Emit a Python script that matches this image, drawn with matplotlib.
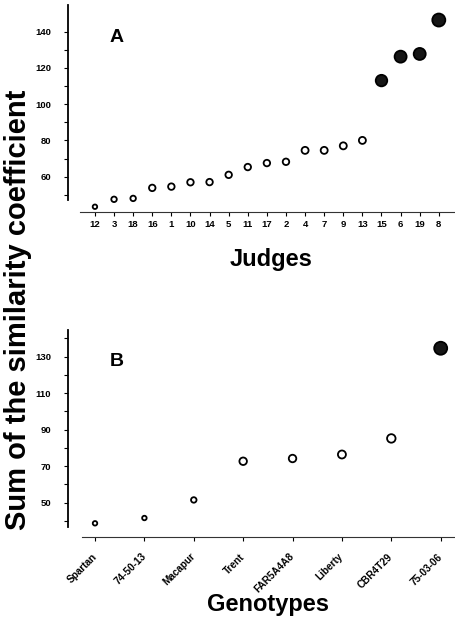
import matplotlib.pyplot as plt
import numpy as np

plt.rcParams['font.family'] = ['Liberation Sans', 'DejaVu Sans']
plt.rcParams['font.weight'] = 'bold'

# panel A: judges
judges = ['12', '3', '18', '16', '1', '10', '14', '5', '11', '17', '2',
          '4', '7', '9', '13', '15', '6', '19', '8']
judge_sum = [43.4, 47.5, 48.0, 53.8, 54.5, 56.9, 57.0, 61.0, 65.3, 67.5, 68.2,
             74.5, 74.5, 77.0, 80.0, 113.0, 126.2, 127.7, 146.4]
judge_diam = [4.5, 5.5, 5.5, 6.5, 6.5, 6.5, 6.5, 6.5, 6.5, 6.5, 6.5,
              7, 7, 7, 7, 11.5, 12, 12, 13]
judge_dark = [False] * 15 + [True] * 4

# panel B: genotypes
genotypes = ['Spartan', '74-50-13', 'Macapur', 'Trent', 'FAR5A4A8',
             'Liberty', 'CBR4T29', '75-03-06']
geno_sum = [38.7, 41.6, 51.5, 72.7, 74.2, 76.4, 85.2, 134.6]
geno_diam = [4.5, 4.5, 5.5, 7.5, 7.5, 8, 8.5, 13]
geno_dark = [False] * 7 + [True]

W, H = 456, 621
fig = plt.figure(figsize=(W / 100, H / 100), dpi=100)


def px_axes(x0, y0, x1, y1):
    # rectangle given in pixel coordinates (top-left origin)
    return fig.add_axes([x0 / W, 1 - y1 / H, (x1 - x0) / W, (y1 - y0) / H])


def draw_panel(ax, labels, values, diam, dark, xlim, ylim, ybounds, xleft,
               majors, minors, rotate):
    x = np.arange(len(labels))
    sizes = (np.array(diam) / 1.389) ** 2
    face = ['#161616' if d else 'white' for d in dark]
    ax.scatter(x, values, s=sizes, facecolors=face, edgecolors='black',
               linewidths=1.3, zorder=3, clip_on=False)
    ax.set_xlim(*xlim)
    ax.set_ylim(*ylim)
    for s in ['top', 'right']:
        ax.spines[s].set_visible(False)
    ax.spines['left'].set_bounds(*ybounds)
    ax.spines['bottom'].set_bounds(xleft, xlim[1])
    ax.spines['left'].set_linewidth(1.3)
    ax.spines['bottom'].set_linewidth(0.8)
    ax.spines['bottom'].set_color('#333333')
    ax.set_yticks(majors)
    ax.set_yticks(minors, minor=True)
    ax.tick_params(axis='y', which='both', length=3, width=0.8, pad=9,
                   labelsize=6.8)
    ax.set_xticks(x)
    if rotate:
        ax.set_xticklabels(labels, rotation=45, ha='right', va='center',
                           rotation_mode='anchor', fontsize=7.2)
        ax.tick_params(axis='x', length=3, width=0.8, pad=10)
    else:
        ax.set_xticklabels(labels, fontsize=6.8)
        ax.tick_params(axis='x', length=3, width=0.8, pad=3)
    for t in ax.get_xticklabels() + ax.get_yticklabels():
        t.set_fontweight('bold')


axA = px_axes(68, 5, 456, 212)
draw_panel(axA, judges, judge_sum, judge_diam, judge_dark,
           (-1.41, 18.9), (40.5, 154.7), (47.1, 154.7), -0.78,
           [60, 80, 100, 120, 140], [50, 70, 90, 110, 130], False)

axB = px_axes(68, 330, 456, 537)
draw_panel(axB, genotypes, geno_sum, geno_diam, geno_dark,
           (-0.547, 7.31), (31.2, 144.6), (36.7, 144.6), -0.27,
           [50, 70, 90, 110, 130], [40, 60, 80, 100, 120, 140], True)

fig.text(117 / W, 1 - 37 / H, 'A', fontsize=14, fontweight='bold',
         ha='center', va='center')
fig.text(117 / W, 1 - 362 / H, 'B', fontsize=14, fontweight='bold',
         ha='center', va='center')
fig.text(271 / W, 1 - 259 / H, 'Judges', fontsize=17, fontweight='bold',
         ha='center', va='center')
fig.text(268 / W, 1 - 604 / H, 'Genotypes', fontsize=17, fontweight='bold',
         ha='center', va='center')
fig.text(18 / W, 1 - 310 / H, 'Sum of the similarity coefficient',
         fontsize=21, fontweight='bold', rotation=90,
         ha='center', va='center')

fig.savefig('out.png', dpi=100)
